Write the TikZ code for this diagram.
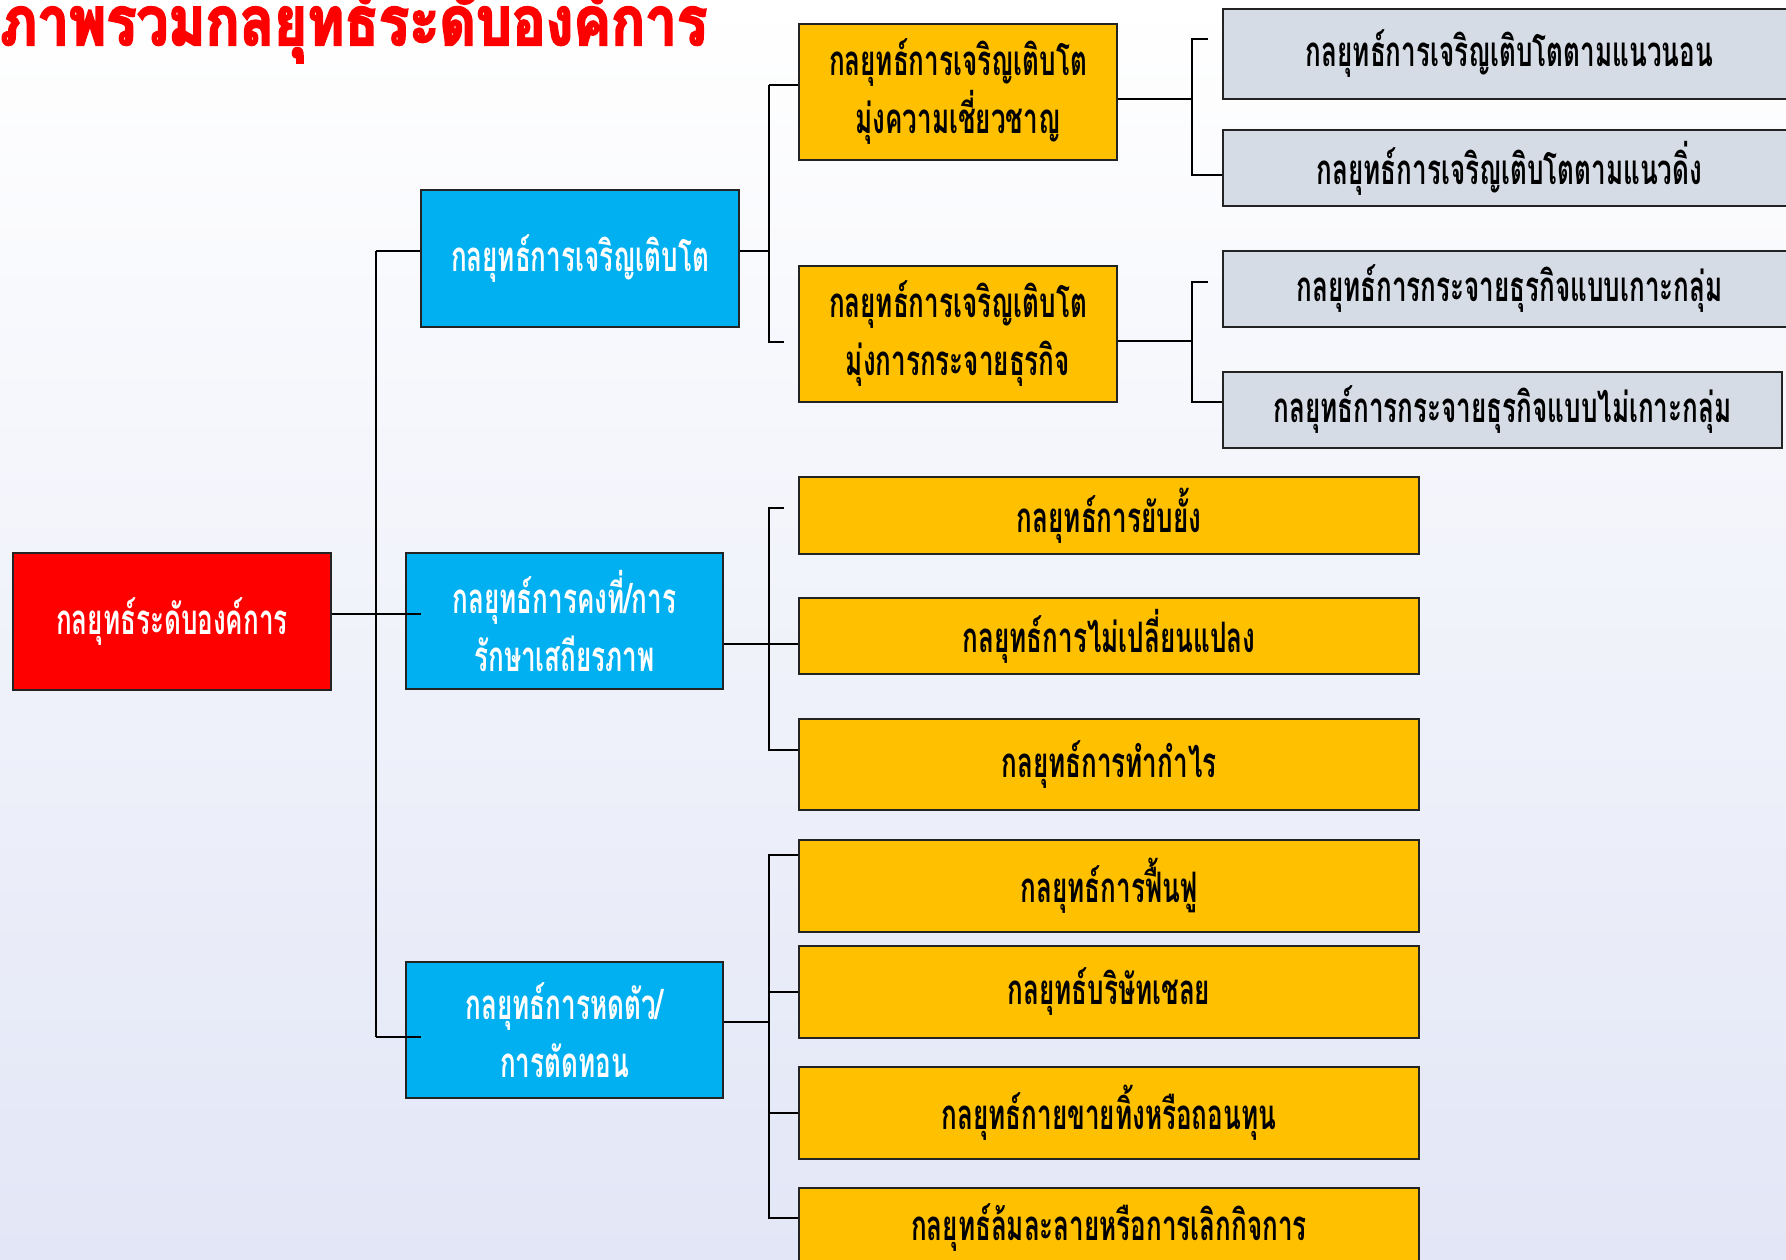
\documentclass[tikz,border=0pt]{standalone}
\usepackage{fontspec}
\usetikzlibrary{calc}
\newfontfamily\thaibody[Script=Thai,FakeStretch=0.62]{Loma}
\newfontfamily\thaititle[Script=Thai,FakeStretch=0.83,FakeBold=3]{Loma}
\definecolor{bgbot}{RGB}{226,230,246}
\definecolor{boxred}{RGB}{255,0,0}
\definecolor{boxblue}{RGB}{0,176,240}
\definecolor{boxorange}{RGB}{255,192,0}
\definecolor{boxgray}{RGB}{214,220,229}
\definecolor{edge}{RGB}{35,35,35}
\tikzset{
  box/.style={draw=edge,line width=2pt,inner sep=0pt,align=center,
    font=\thaibody\bfseries\fontsize{42}{58}\selectfont},
  rootbox/.style={box,fill=boxred,text=white,minimum width=318,minimum height=137},
  bluebox/.style={box,fill=boxblue,text=white,minimum width=318,minimum height=137},
  orangebox/.style={box,fill=boxorange,text=black},
  graybox/.style={box,fill=boxgray,text=black},
  conn/.style={draw=black,line width=2.5pt},
}
\begin{document}
\begin{tikzpicture}[x=1pt,y=-1pt]
\useasboundingbox (0,0) rectangle (1786,1259);
\begin{scope}
\clip (0,0) rectangle (1786,1259);
\shade[top color=white,bottom color=bgbot] (0,0) rectangle (1786,1259);

% title
\node[anchor=base west,inner sep=0pt,text=boxred,font=\thaititle\bfseries\fontsize{68}{70}\selectfont] (title) at (0,45) {ภาพรวมกลยุทธ์ระดับองค์การ};

% level 1 and 2
\node[rootbox] (root) at (172,621.5) {กลยุทธ์ระดับองค์การ};
\node[bluebox] (grow) at (580,258.5) {กลยุทธ์การเจริญเติบโต};
\node[bluebox,minimum width=317,minimum height=136] (stab) at (564.5,621) {กลยุทธ์การคงที่/การ\\รักษาเสถียรภาพ};
\node[bluebox,minimum width=317,minimum height=136] (retr) at (564.5,1030) {กลยุทธ์การหดตัว/\\การตัดทอน};

% growth branches
\node[orangebox,minimum width=318,minimum height=136] (go1) at (958,92) {กลยุทธ์การเจริญเติบโต\\มุ่งความเชี่ยวชาญ};
\node[orangebox,minimum width=318,minimum height=136] (go2) at (958,334) {กลยุทธ์การเจริญเติบโต\\มุ่งการกระจายธุรกิจ};

\node[graybox,minimum width=573,minimum height=90] (gh1) at (1509.5,54) {กลยุทธ์การเจริญเติบโตตามแนวนอน};
\node[graybox,minimum width=573,minimum height=76] (gh2) at (1509.5,168) {กลยุทธ์การเจริญเติบโตตามแนวดิ่ง};
\node[graybox,minimum width=573,minimum height=76] (gd1) at (1509.5,289) {กลยุทธ์การกระจายธุรกิจแบบเกาะกลุ่ม};
\node[graybox,minimum width=559,minimum height=76] (gd2) at (1502.5,410) {กลยุทธ์การกระจายธุรกิจแบบไม่เกาะกลุ่ม};

% stability branches
\node[orangebox,minimum width=620,minimum height=77] (st1) at (1109,515.5) {กลยุทธ์การยับยั้ง};
\node[orangebox,minimum width=620,minimum height=76] (st2) at (1109,636) {กลยุทธ์การไม่เปลี่ยนแปลง};
\node[orangebox,minimum width=620,minimum height=91] (st3) at (1109,764.5) {กลยุทธ์การทำกำไร};

% retrenchment branches
\node[orangebox,minimum width=620,minimum height=92] (rt1) at (1109,886) {กลยุทธ์การฟื้นฟู};
\node[orangebox,minimum width=620,minimum height=92] (rt2) at (1109,992) {กลยุทธ์บริษัทเชลย};
\node[orangebox,minimum width=620,minimum height=92] (rt3) at (1109,1113) {กลยุทธ์กายขายทิ้งหรือถอนทุน};
\node[orangebox,minimum width=620,minimum height=80] (rt4) at (1109,1228) {กลยุทธ์ล้มละลายหรือการเลิกกิจการ};

% root trunk
\coordinate (t0) at (376,251);
\coordinate (t1) at (376,1037);
\coordinate (tm) at (376,614);
\coordinate (e1) at (421,614);
\coordinate (e2) at (421,1037);
\draw[conn] (t0) -- (t1);
\draw[conn] (t0) -- (grow.west |- t0);
\draw[conn] (root.east |- tm) -- (e1);
\draw[conn] (t1) -- (e2);

% growth fork
\coordinate (ga) at (769,85);
\coordinate (gb) at (769,342);
\coordinate (gm) at (769,251);
\coordinate (gs) at (784,342);
\draw[conn] (grow.east |- gm) -- (gm);
\draw[conn] (ga) -- (gb) -- (gs);
\draw[conn] (ga) -- (go1.west |- ga);

% concentration fork
\coordinate (ha) at (1192,39);
\coordinate (hb) at (1192,175);
\coordinate (hm) at (1192,99);
\coordinate (hs) at (1208,39);
\draw[conn] (go1.east |- hm) -- (hm);
\draw[conn] (hs) -- (ha) -- (hb) -- (gh2.west |- hb);

% diversification fork
\coordinate (da) at (1192,282);
\coordinate (db) at (1192,402);
\coordinate (dm) at (1192,341);
\coordinate (ds) at (1208,282);
\draw[conn] (go2.east |- dm) -- (dm);
\draw[conn] (ds) -- (da) -- (db) -- (gd2.west |- db);

% stability fork
\coordinate (sa) at (769,508);
\coordinate (sb) at (769,750);
\coordinate (sm) at (769,644);
\coordinate (ss) at (784,508);
\draw[conn] (stab.east |- sm) -- (st2.west |- sm);
\draw[conn] (ss) -- (sa) -- (sb) -- (st3.west |- sb);

% retrenchment fork
\coordinate (ra) at (769,855);
\coordinate (rb) at (769,1218);
\coordinate (rm) at (769,1022);
\draw[conn] (retr.east |- rm) -- (rm);
\draw[conn] (rt1.west |- ra) -- (ra) -- (rb) -- (rt4.west |- rb);
\draw[conn] (769,992) -- (rt2.west |- 0,992);
\draw[conn] (769,1113) -- (rt3.west |- 0,1113);
\end{scope}
\end{tikzpicture}
\end{document}
